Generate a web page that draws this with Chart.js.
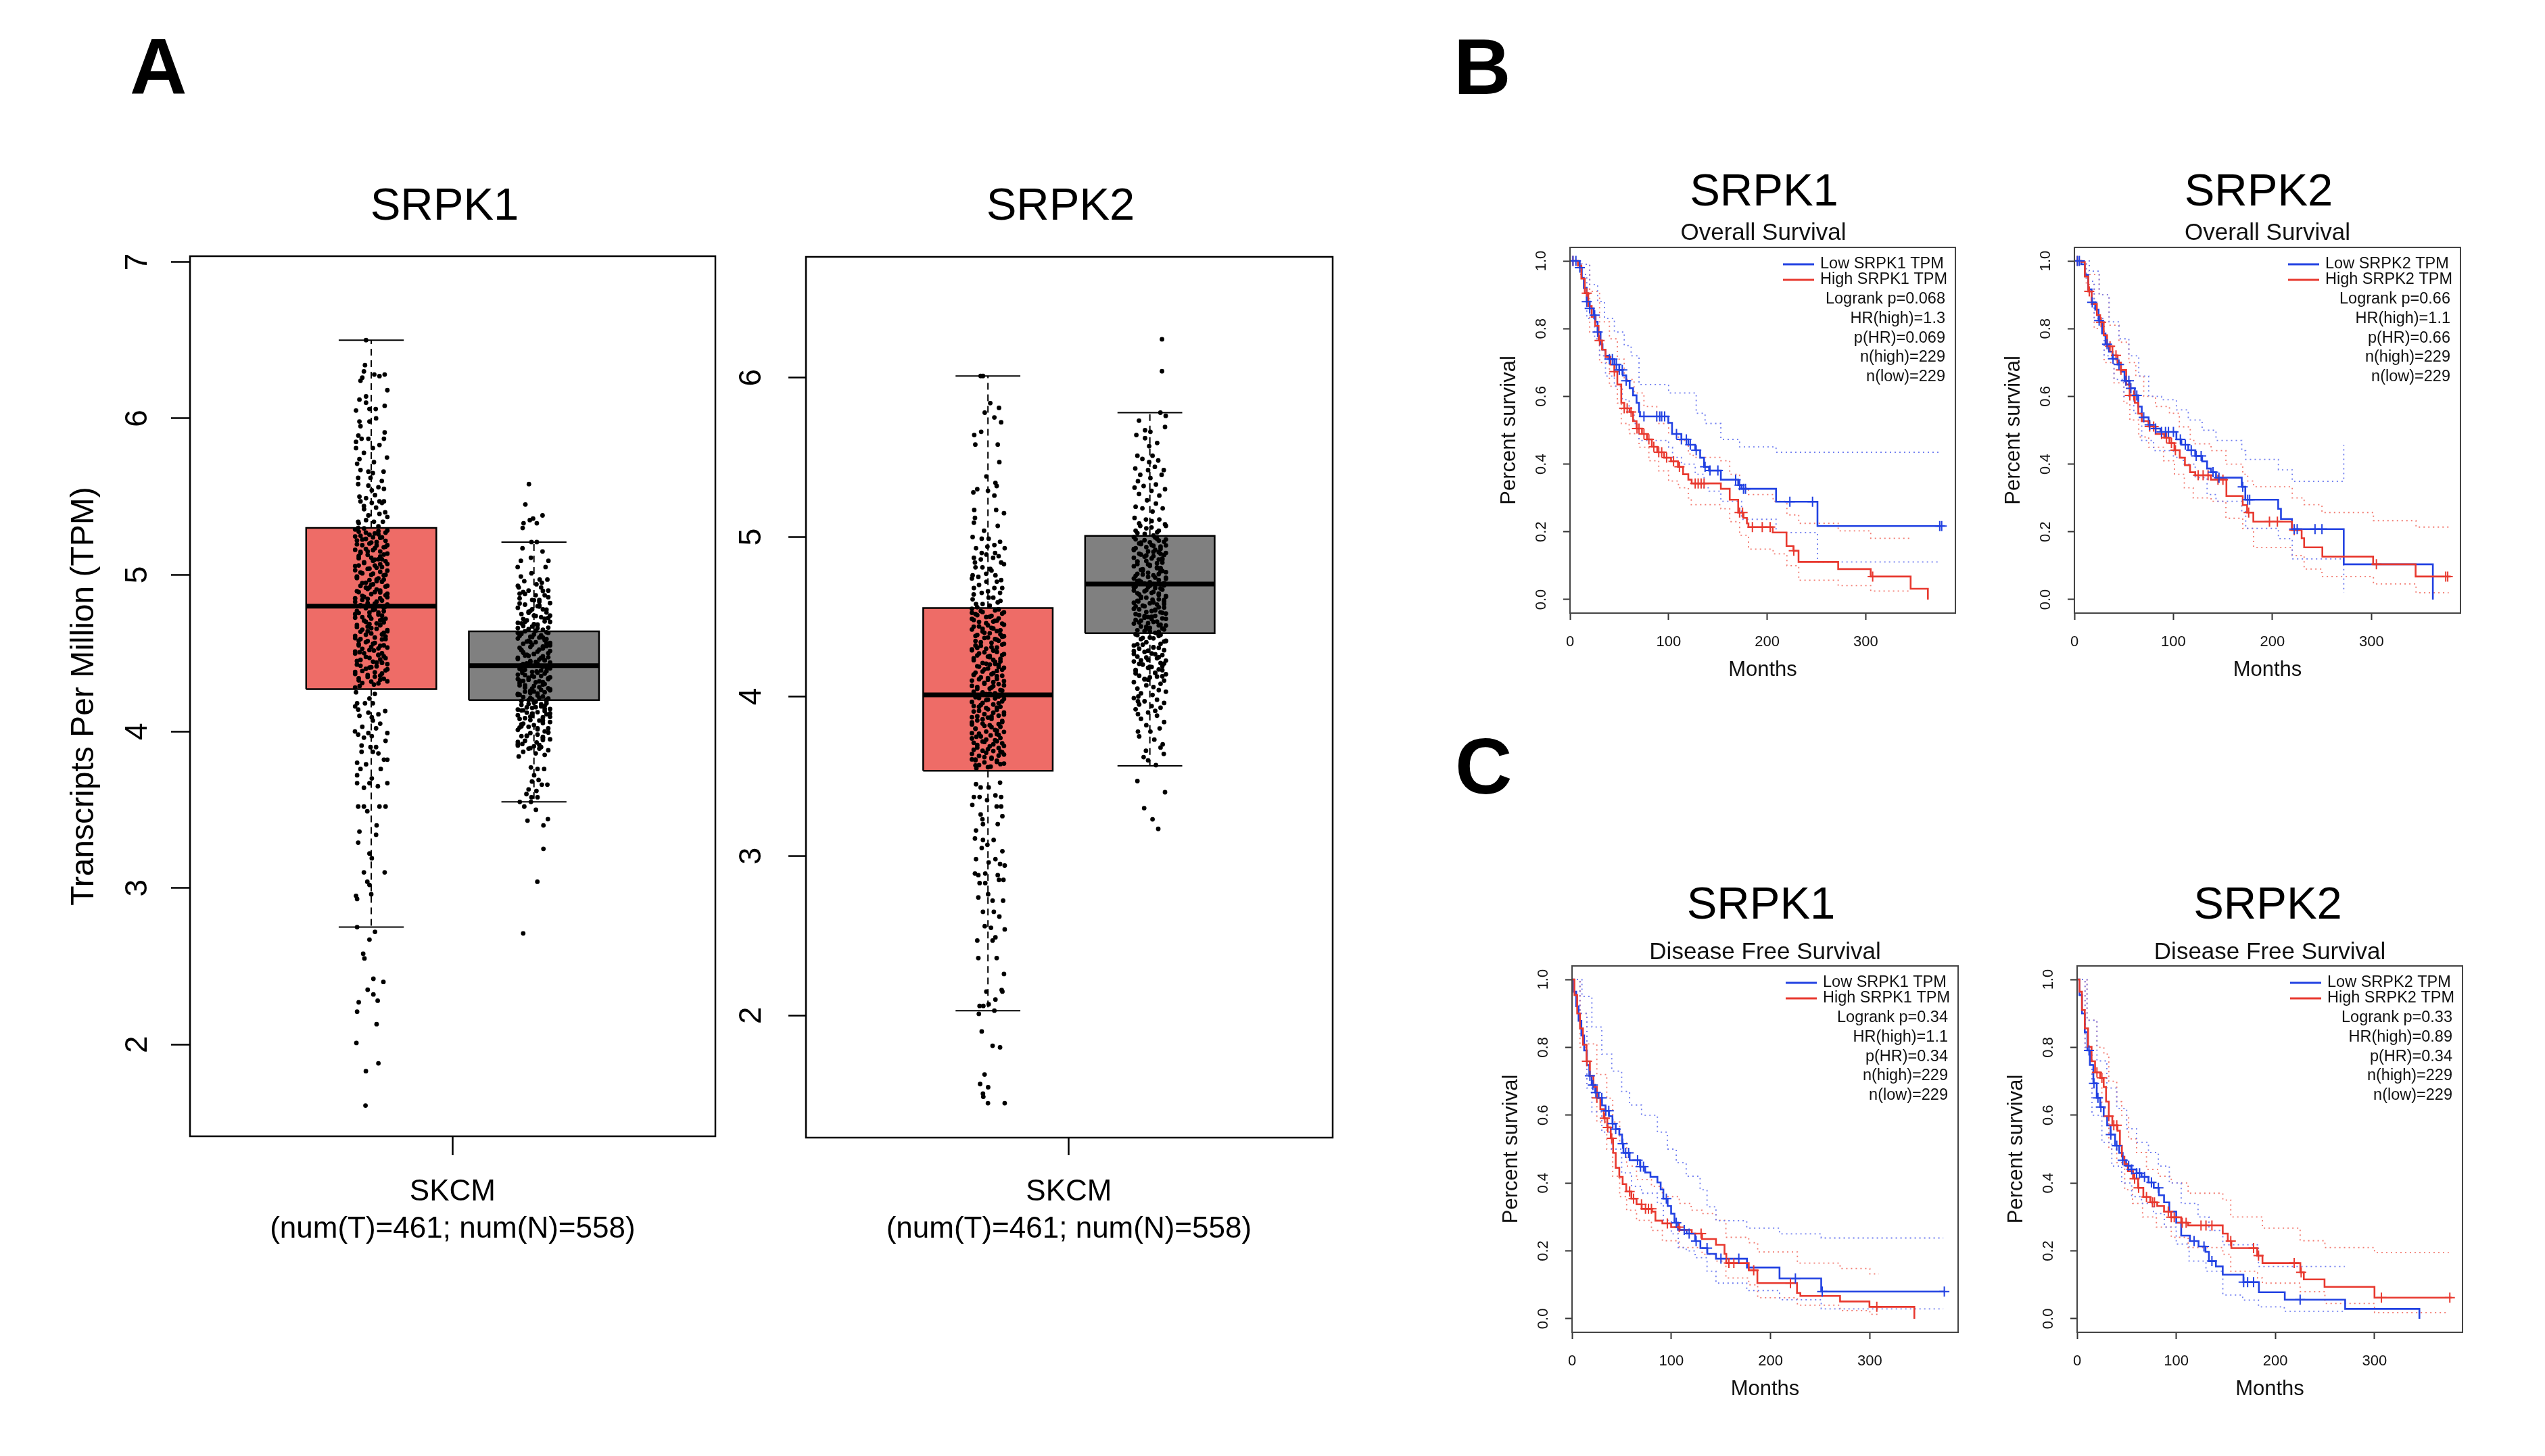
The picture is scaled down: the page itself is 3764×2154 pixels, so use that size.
<!DOCTYPE html>
<html><head><meta charset="utf-8">
<script src="https://cdn.jsdelivr.net/npm/chart.js@4.4.0/dist/chart.umd.min.js"></script>
<style>
body{margin:0;background:#fff;}
#page{position:relative;width:3764px;height:2154px;background:#fff;overflow:hidden;font-family:'Liberation Sans',Arial,Helvetica,sans-serif;}
canvas{position:absolute;}
.lbl{position:absolute;font-weight:bold;font-size:117px;line-height:117px;color:#000;}
</style></head><body>
<div id="page">
<div class="lbl" style="left:192px;top:40px">A</div>
<div class="lbl" style="left:2150px;top:40px">B</div>
<div class="lbl" style="left:2152px;top:1075px">C</div>
<canvas id="boxA1"></canvas><canvas id="boxA2"></canvas>
<canvas id="kmB1"></canvas><canvas id="kmB2"></canvas>
<canvas id="kmC1"></canvas><canvas id="kmC2"></canvas>
</div>
<script>
// ================= DATA =================
const genes = ['SRPK1', 'SRPK2'];
const boxGroups = ['Tumor', 'Normal'];
const boxTickLabel = ['SKCM', '(num(T)=461; num(N)=558)'];
const boxYTitle = 'Transcripts Per Million (TPM)';
const srpk1YTicks = [2, 3, 4, 5, 6, 7];
const srpk2YTicks = [2, 3, 4, 5, 6];
// box stats: [lower whisker, Q1, median, Q3, upper whisker]
const srpk1TumorStats = [2.75, 4.27, 4.80, 5.30, 6.50];
const srpk1NormalStats = [3.55, 4.20, 4.42, 4.64, 5.21];
const srpk2TumorStats = [2.03, 3.535, 4.01, 4.555, 6.01];
const srpk2NormalStats = [3.565, 4.397, 4.706, 5.007, 5.78];

// individual sample TPM values
const srpk1TumorTPM = [
6.50,6.34,6.30,6.24,6.26,6.27,6.28,6.28,6.18,6.12,6.14,6.10,6.05,6.06,6.06,6.08,6.00,5.98,5.95,5.98,
5.91,5.89,5.85,5.87,5.87,5.81,5.83,5.87,5.81,5.78,5.75,5.74,5.71,5.72,5.67,5.66,5.65,5.66,5.62,5.62,
5.60,5.58,5.57,5.56,5.55,5.54,5.50,5.49,5.51,5.47,5.46,5.47,5.47,5.44,5.43,5.40,5.38,5.39,5.34,5.35,
5.34,5.34,5.31,5.30,
4.25,4.18,4.18,4.18,4.14,4.12,4.13,4.10,4.09,4.11,4.07,4.02,4.00,3.98,3.96,3.99,3.97,3.99,3.91,3.90,
3.90,3.87,3.87,3.86,3.82,3.82,3.80,3.79,3.76,3.76,3.72,3.70,3.67,3.67,3.67,3.64,3.65,3.52,3.52,3.49,
3.52,3.52,3.40,3.36,3.34,3.29,3.22,3.19,3.10,3.10,3.04,3.02,2.95,2.93,2.96,2.75,2.72,2.67,2.58,2.55,
2.42,2.40,2.35,2.32,2.27,2.28,2.21,2.13,2.01,1.88,1.83,1.61,
5.29,5.28,5.27,5.27,5.25,5.24,5.24,5.22,5.21,5.20,5.19,5.19,5.17,5.16,5.15,5.15,5.13,5.12,5.11,5.10,
5.10,5.08,5.07,5.06,5.06,5.04,5.03,5.02,5.01,5.00,5.00,4.98,4.97,4.97,4.95,4.94,4.93,4.93,4.91,4.90,
4.89,4.89,4.87,4.86,4.85,4.85,4.83,4.82,4.81,4.80,4.80,4.79,4.77,4.76,4.76,4.74,4.73,4.72,4.72,4.70,
4.69,4.68,4.68,4.66,4.65,4.64,4.64,4.62,4.61,4.60,4.59,4.59,4.57,4.56,4.55,4.55,4.53,4.52,4.51,4.50,
4.50,4.48,4.47,4.46,4.45,4.44,4.43,4.42,4.41,4.40,4.39,4.38,4.37,4.36,4.35,4.34,4.33,4.32,4.31,4.30,
4.29,4.28,5.26,5.23,5.18,5.14,5.09,5.05,4.99,4.96,4.92,4.88,4.84,4.78,4.75,4.71,4.67,4.63,4.58,4.54,
4.49,4.44,
5.297,5.284,5.276,5.265,5.257,5.246,5.237,5.226,5.218,5.207,5.196,5.188,5.177,5.166,5.158,5.147,5.136,5.128,5.117,5.106,
5.098,5.087,5.076,5.068,5.057,5.046,5.038,5.027,5.016,5.008,4.997,4.986,4.978,4.967,4.956,4.948,4.937,4.926,4.918,4.907,
4.896,4.888,4.877,4.866,4.858,4.847,4.836,4.828,4.817,4.806,4.798,4.787,4.776,4.768,4.757,4.746,4.738,4.727,4.716,4.708,
4.697,4.686,4.678,4.667,4.656,4.648,4.637,4.626,4.618,4.607,4.596,4.588,4.577,4.566,4.558,4.547,4.536,4.528,4.517,4.506,
4.498,4.487,4.476,4.468,4.457,4.446,4.438,4.427,4.416,4.408,4.397,4.386,4.378,4.367,4.356,4.348,4.337,4.326,4.318,4.307,
5.46,5.42,5.37,5.33,4.24,4.21,4.16,4.05,4.03,3.94];
const srpk1NormalTPM = [
5.58,5.45,5.30,5.33,5.35,5.36,5.33,5.38,5.21,5.21,5.17,5.15,5.11,5.09,5.09,5.05,5.05,4.99,5.01,4.96,
4.97,4.97,4.92,4.94,4.95,
3.84,3.77,3.76,3.76,3.72,3.68,3.69,3.66,3.66,3.63,3.62,3.60,3.58,3.58,3.55,3.55,3.52,3.50,3.43,3.44,
3.40,3.25,3.04,2.71,
4.93,4.92,4.90,4.90,4.89,4.87,4.87,4.85,4.84,4.84,4.82,4.81,4.80,4.79,4.78,4.77,4.76,4.75,4.74,4.73,
4.72,4.71,4.70,4.69,4.68,4.67,4.66,4.65,4.64,4.63,4.62,4.61,4.60,4.59,4.58,4.57,4.56,4.55,4.54,4.53,
4.52,4.51,4.50,4.49,4.48,4.47,4.46,4.45,4.44,4.43,4.42,4.41,4.40,4.39,4.38,4.37,4.36,4.35,4.34,4.33,
4.32,4.31,4.30,4.29,4.28,4.27,4.26,4.25,4.24,4.23,4.22,4.21,4.20,4.19,4.18,4.17,4.16,4.15,4.14,4.13,
4.12,4.11,4.10,4.09,4.08,4.07,4.06,4.05,4.04,4.03,4.02,4.01,4.00,3.99,3.98,3.97,3.96,3.95,3.94,3.93,
3.92,3.91,3.90,3.89,3.88,3.87,3.86,3.85,
4.88,4.83,4.78,4.74,4.70,4.66,4.63,4.60,4.57,4.545,4.52,4.495,4.47,4.455,4.435,4.415,4.395,4.375,4.355,4.335,
4.315,4.295,4.275,4.255,4.235,4.215,4.195,4.175,4.155,4.135,4.115,4.095,4.07,4.045,4.02,3.995,3.97,3.945,3.92,3.89,
4.605,4.565,4.505,4.445,4.385,4.325,4.265,4.205,4.145,4.085,4.685,4.725,4.765,4.805,4.025,3.965,3.905,4.485,4.345,4.245,
4.703,4.694,4.683,4.674,4.663,4.654,4.643,4.634,4.623,4.614,4.603,4.594,4.583,4.574,4.563,4.554,4.543,4.534,4.523,4.514,
4.503,4.494,4.483,4.474,4.463,4.454,4.443,4.434,4.423,4.414,4.403,4.394,4.383,4.374,4.363,4.354,4.343,4.334,4.323,4.314,
4.303,4.294,4.283,4.274,4.263,4.254,4.243,4.234,4.223,4.214,4.203,4.194,4.183,4.174,4.163,4.154,4.143,4.134,4.123,4.114,
4.103,4.898,4.878,4.858,4.838,4.818,4.798,4.778,4.758,4.738,4.718,4.093,4.073,4.053,4.033,4.013,3.993,3.973,3.953,3.933,
3.913,3.893];
const srpk2TumorTPM = [
6.01,6.01,5.84,5.78,5.81,5.75,5.72,5.66,5.64,5.58,5.58,5.47,5.38,5.34,5.32,5.30,5.28,5.29,5.26,5.17,
5.17,5.15,5.12,5.09,5.07,5.04,5.00,4.99,4.99,4.95,4.97,4.93,4.94,4.93,4.90,4.87,4.89,4.87,4.84,4.84,
4.81,4.80,4.76,4.76,4.75,4.73,4.72,4.68,4.68,4.65,4.65,4.61,4.62,4.58,4.59,
3.45,3.43,3.43,3.46,3.37,3.37,3.38,3.37,3.35,3.32,3.31,3.31,3.25,3.26,3.23,3.20,3.20,3.16,3.11,3.10,
3.10,3.05,3.07,3.03,2.98,2.98,2.96,2.95,2.94,2.89,2.88,2.89,2.88,2.83,2.83,2.85,2.85,2.76,2.74,2.72,
2.72,2.65,2.65,2.62,2.56,2.55,2.54,2.49,2.47,2.47,2.36,2.36,2.26,2.16,2.15,2.15,2.10,2.06,2.06,2.07,
2.01,2.03,1.90,1.81,1.80,1.63,1.57,1.55,1.51,1.49,1.45,1.45,
4.55,4.54,4.53,4.52,4.51,4.50,4.49,4.48,4.47,4.46,4.45,4.44,4.43,4.42,4.41,4.40,4.39,4.38,4.37,4.36,
4.35,4.34,4.33,4.32,4.31,4.30,4.29,4.28,4.27,4.26,4.25,4.24,4.23,4.22,4.21,4.20,4.19,4.18,4.17,4.16,
4.15,4.14,4.13,4.12,4.11,4.10,4.09,4.08,4.07,4.06,4.05,4.04,4.03,4.02,4.01,4.00,3.99,3.98,3.97,3.96,
3.95,3.94,3.93,3.92,3.91,3.90,3.89,3.88,3.87,3.86,3.85,3.84,3.83,3.82,3.81,3.80,3.79,3.78,3.77,3.76,
3.75,3.74,3.73,3.72,3.71,3.70,3.69,3.68,3.67,3.66,3.65,3.64,3.63,3.62,3.61,3.60,3.59,3.58,3.57,3.56,
3.55,4.525,4.475,4.425,4.375,4.305,4.255,4.185,4.135,4.065,4.015,3.985,3.935,3.875,3.825,3.765,3.715,3.655,3.605,4.105,
4.205,
4.547,4.536,4.528,4.517,4.506,4.498,4.487,4.476,4.468,4.457,4.446,4.438,4.427,4.416,4.408,4.397,4.386,4.378,4.367,4.356,
4.348,4.337,4.326,4.318,4.307,4.296,4.288,4.277,4.266,4.258,4.247,4.236,4.228,4.217,4.206,4.198,4.187,4.176,4.168,4.157,
4.146,4.138,4.127,4.116,4.108,4.097,4.086,4.078,4.067,4.056,4.048,4.037,4.026,4.018,4.007,3.996,3.988,3.977,3.966,3.958,
3.947,3.936,3.928,3.917,3.906,3.898,3.887,3.876,3.868,3.857,3.846,3.838,3.827,3.816,3.808,3.797,3.786,3.778,3.767,3.756,
3.748,3.737,3.726,3.718,3.707,3.696,3.688,3.677,3.666,3.658,3.647,3.636,3.628,3.617,3.606,3.598,3.587,3.576,3.568,3.557,
4.90,4.88,4.86,4.83,4.81,4.79,4.77,4.74,4.72,4.70,4.68,4.66,4.64,4.62,4.60,4.58,4.57,4.56];
const srpk2NormalTPM = [
6.24,6.04,5.78,5.76,5.73,5.69,5.67,5.66,5.64,5.62,5.59,5.57,5.51,5.51,5.49,5.48,5.47,5.43,5.44,5.42,
5.42,5.39,5.39,5.37,5.35,5.33,5.31,5.32,5.30,5.29,5.27,5.26,5.23,5.21,5.19,5.18,5.18,5.16,5.12,5.11,
5.11,5.08,5.07,5.06,5.04,5.03,5.02,
3.97,3.89,3.78,3.78,3.66,3.70,3.64,3.62,3.60,3.57,3.47,3.40,3.30,3.23,3.17,3.88,3.86,3.84,3.82,3.80,
3.75,3.73,3.68,
5.00,4.99,4.98,4.97,4.96,4.95,4.94,4.93,4.92,4.91,4.90,4.89,4.88,4.87,4.86,4.85,4.84,4.83,4.82,4.81,
4.80,4.79,4.78,4.77,4.76,4.75,4.74,4.73,4.72,4.71,4.70,4.69,4.68,4.67,4.66,4.65,4.64,4.63,4.62,4.61,
4.60,4.59,4.58,4.57,4.56,4.55,4.54,4.53,4.52,4.51,4.50,4.49,4.48,4.47,4.46,4.45,4.44,4.43,4.42,4.41,
4.40,4.39,4.38,4.37,4.36,4.35,4.34,4.33,4.32,4.31,4.30,4.29,4.28,4.27,4.26,4.25,4.24,4.23,4.22,4.21,
4.20,4.19,4.18,4.17,4.16,4.15,4.14,4.13,4.12,4.11,4.10,4.09,4.08,4.07,4.06,4.05,4.04,4.03,4.02,4.01,
4.00,3.99,3.98,3.97,3.96,3.95,3.94,3.93,3.92,3.91,3.90,
4.985,4.965,4.945,4.925,4.905,4.885,4.865,4.845,4.825,4.805,4.785,4.765,4.745,4.725,4.705,4.685,4.665,4.645,4.625,4.605,
4.585,4.565,4.545,4.525,4.505,4.485,4.465,4.445,4.425,4.405,4.385,4.365,4.345,4.325,4.305,4.285,4.265,4.245,4.225,4.205,
4.185,4.165,4.145,4.125,4.105,4.895,4.795,4.695,4.595,4.495,
4.997,4.986,4.978,4.967,4.956,4.948,4.937,4.926,4.918,4.907,4.896,4.888,4.877,4.866,4.858,4.847,4.836,4.828,4.817,4.806,
4.798,4.787,4.776,4.768,4.757,4.746,4.738,4.727,4.716,4.708,4.697,4.686,4.678,4.667,4.656,4.648,4.637,4.626,4.618,4.607,
4.596,4.588,4.577,4.566,4.558,4.547,4.536,4.528,4.517,4.506,4.498,4.487,4.476,4.468,4.457,4.446,4.438,4.427,4.416,4.408,
4.397,4.387,4.367,4.347,4.327,4.307,4.287,4.267,4.247,4.227,4.207,4.187,4.167,4.147,4.127,4.107,
5.10,5.085,5.07,5.055,5.04,5.025,5.01];

// ---- Kaplan-Meier curves: [months, survival] at each step ----
const kmMonthTicks = [0, 100, 200, 300];
const kmSurvTicks = [0, 0.2, 0.4, 0.6, 0.8, 1.0];
const os1Low = [[0,1],[9.8,0.98],[12,0.95],[14,0.92],[17,0.88],[20,0.86],[24,0.84],[26,0.82],[28,0.79],[31,0.754],[33,0.738],[36,0.72],[40,0.71],[45,0.694],[50,0.678],[53.5,0.662],[57,0.646],[60.5,0.624],[64,0.603],[67.5,0.581],[70,0.554],[71,0.541],[99.7,0.522],[103.5,0.489],[113,0.473],[120,0.457],[127,0.441],[132,0.419],[136,0.392],[141,0.381],[153,0.354],[170.6,0.338],[174,0.327],[209,0.289],[251,0.217],[377,0.217]];
const os1High = [[0,1],[8,0.986],[11.5,0.948],[15,0.905],[18.5,0.867],[22,0.835],[25.5,0.808],[29,0.765],[32.5,0.738],[36,0.716],[41,0.694],[45,0.673],[48,0.635],[52,0.581],[55,0.565],[60.5,0.554],[64,0.527],[67.5,0.505],[73,0.489],[78,0.473],[83,0.451],[88.5,0.435],[95.5,0.419],[102.5,0.408],[109.5,0.392],[114.7,0.370],[120,0.354],[123.4,0.343],[153,0.327],[162,0.295],[170.6,0.257],[176,0.241],[179.4,0.225],[181,0.214],[205.6,0.198],[219.6,0.158],[226.6,0.144],[231.8,0.111],[272,0.090],[305,0.068],[345.5,0.032],[363,0.0]];
const os1LowUpper = [[0,1],[12,0.99],[20,0.93],[28,0.88],[35,0.83],[45,0.79],[55,0.75],[62,0.72],[70,0.635],[100,0.61],[128,0.55],[137,0.52],[153,0.473],[172,0.451],[209,0.435],[375,0.435]];
const os1LowLower = [[0,1],[10,0.96],[17,0.83],[25,0.77],[30,0.72],[36,0.66],[45,0.63],[53,0.59],[60,0.55],[65,0.52],[70,0.47],[100,0.45],[104,0.42],[113,0.40],[127,0.37],[136,0.33],[141,0.32],[153,0.29],[174,0.237],[209,0.198],[251,0.111],[375,0.111]];
const os1HighUpper = [[0,1],[12,0.99],[20,0.91],[30,0.82],[40,0.77],[48,0.71],[55,0.65],[65,0.61],[75,0.57],[88,0.52],[100,0.49],[110,0.47],[120,0.43],[125,0.42],[153,0.41],[162,0.37],[172,0.33],[181,0.31],[206,0.29],[220,0.25],[232,0.225],[272,0.203],[305,0.181],[345,0.181]];
const os1HighLower = [[0,1],[10,0.96],[20,0.79],[30,0.70],[40,0.63],[48,0.58],[52,0.52],[60,0.49],[70,0.45],[80,0.41],[90,0.38],[100,0.35],[110,0.33],[120,0.30],[123,0.28],[153,0.268],[162,0.23],[172,0.19],[181,0.149],[206,0.135],[220,0.10],[232,0.057],[272,0.041],[305,0.025],[345,0.025]];
const os1LowCensor = [3,6,10,17,20,25,28,40,43,47,50,53,57,75,88,91,93,96,108,113,118,122,128,137,142,150,168,172,176,178,223,246,375,377];
const os1HighCensor = [3,17,30,45,55,58,62,68,70,75,80,85,90,93,98,105,111,127,130,133,136,172,175,185,195,203,227,307];
const os1Stats = ['Logrank p=0.068','HR(high)=1.3','p(HR)=0.069','n(high)=229','n(low)=229'];

const os2Low = [[0,1],[7,0.99],[10.5,0.959],[14,0.916],[17.4,0.878],[21,0.856],[24.4,0.824],[27.9,0.786],[31.4,0.754],[34.9,0.732],[38.4,0.711],[43.6,0.694],[47,0.673],[50.6,0.646],[55.8,0.624],[61,0.603],[64.5,0.570],[68,0.538],[75,0.516],[80,0.505],[87,0.495],[103,0.473],[108,0.457],[115,0.441],[122,0.424],[129,0.408],[134,0.387],[138,0.376],[143,0.360],[169,0.333],[172.6,0.295],[205.8,0.268],[208.6,0.238],[219.7,0.208],[272,0.104],[362,0.0]];
const os2High = [[0,1],[7,0.997],[10.5,0.954],[14,0.910],[17.4,0.873],[22.7,0.84],[26,0.819],[29.6,0.781],[33,0.748],[38.4,0.721],[43.6,0.700],[47,0.678],[52.3,0.635],[55.8,0.603],[61,0.581],[64.5,0.549],[68,0.527],[75,0.511],[82,0.489],[90.7,0.478],[96,0.462],[101,0.441],[106.4,0.419],[111.6,0.397],[116.8,0.376],[122,0.367],[137.8,0.354],[153.5,0.306],[170,0.279],[174.4,0.257],[180.7,0.230],[219.7,0.205],[229.5,0.181],[232,0.154],[250.4,0.127],[301.7,0.104],[344.6,0.068],[380,0.068]];
const os2LowUpper = [[0,1],[15,0.97],[25,0.9],[35,0.82],[45,0.77],[55,0.72],[65,0.66],[75,0.6],[88,0.59],[103,0.56],[115,0.53],[129,0.50],[143,0.47],[169,0.44],[173,0.414],[206,0.383],[220,0.349],[272,0.457]];
const os2LowLower = [[0,1],[12,0.94],[20,0.83],[30,0.72],[40,0.65],[50,0.60],[60,0.55],[68,0.47],[80,0.44],[100,0.42],[110,0.40],[122,0.36],[134,0.31],[143,0.29],[169,0.26],[173,0.21],[206,0.18],[220,0.12],[272,0.02]];
const os2HighUpper = [[0,1],[15,0.96],[25,0.9],[35,0.81],[45,0.76],[55,0.7],[62,0.66],[70,0.6],[82,0.57],[96,0.55],[106,0.51],[117,0.47],[122,0.46],[138,0.44],[153,0.40],[170,0.37],[175,0.35],[181,0.333],[220,0.3],[232,0.28],[250,0.257],[302,0.233],[345,0.214],[378,0.214]];
const os2HighLower = [[0,1],[12,0.93],[20,0.8],[30,0.7],[40,0.64],[50,0.58],[56,0.53],[65,0.48],[75,0.45],[90,0.41],[101,0.37],[111,0.33],[120,0.30],[138,0.29],[153,0.24],[170,0.21],[181,0.154],[220,0.13],[232,0.09],[250,0.068],[302,0.046],[345,0.02],[378,0.02]];
const os2LowCensor = [3,5,18,25,33,39,45,52,55,57,63,70,76,82,88,92,95,100,107,112,118,123,128,140,146,170,175,177,222,225,243,250];
const os2HighCensor = [3,15,27,36,42,47,56,60,76,80,88,93,98,102,125,130,135,145,150,176,197,205,222,305,375,377];
const os2Stats = ['Logrank p=0.66','HR(high)=1.1','p(HR)=0.66','n(high)=229','n(low)=229'];

const dfs1Low = [[0,1],[1.7,0.964],[4.2,0.921],[6.6,0.878],[9.4,0.835],[12.2,0.791],[15,0.748],[17.4,0.716],[19.8,0.689],[23.3,0.667],[26.8,0.651],[30.2,0.629],[33.7,0.613],[37.2,0.597],[40.7,0.575],[44,0.559],[47.6,0.543],[50.4,0.516],[51.8,0.489],[58,0.467],[68.5,0.448],[73.7,0.431],[79,0.418],[86,0.402],[89.3,0.381],[92,0.354],[96.3,0.332],[99.8,0.310],[103.2,0.283],[106.7,0.262],[115.4,0.251],[124,0.229],[129.3,0.208],[136.3,0.191],[145,0.177],[176.2,0.151],[209,0.119],[251,0.080],[376,0.080]];
const dfs1High = [[0,1],[2.4,0.954],[5.2,0.9],[8,0.856],[11,0.808],[14.6,0.759],[18,0.716],[21.6,0.683],[25,0.651],[28.5,0.618],[32,0.591],[35.5,0.564],[39,0.532],[41.4,0.489],[44,0.445],[47.6,0.418],[51,0.397],[54.6,0.375],[59.8,0.354],[65,0.337],[70.2,0.324],[80.6,0.316],[84,0.289],[91,0.281],[99.8,0.270],[108.4,0.262],[120.6,0.251],[131,0.235],[145,0.218],[153.6,0.191],[155.4,0.164],[178,0.143],[186.7,0.105],[226.6,0.076],[230,0.067],[270,0.051],[299.6,0.035],[344.8,0.0]];
const dfs1LowUpper = [[0,1],[10,0.95],[20,0.86],[30,0.78],[40,0.73],[50,0.67],[58,0.63],[70,0.6],[86,0.55],[96,0.5],[105,0.46],[115,0.42],[129,0.38],[136,0.33],[145,0.289],[176,0.267],[209,0.25],[251,0.238],[374,0.238]];
const dfs1LowLower = [[0,1],[8,0.9],[15,0.68],[20,0.61],[30,0.55],[40,0.5],[50,0.43],[60,0.39],[70,0.37],[86,0.34],[92,0.29],[100,0.25],[107,0.21],[115,0.2],[124,0.18],[136,0.14],[145,0.105],[176,0.083],[209,0.056],[251,0.029],[374,0.029]];
const dfs1HighUpper = [[0,1],[8,0.9],[15,0.81],[25,0.72],[35,0.65],[41,0.58],[48,0.52],[55,0.45],[65,0.41],[80,0.39],[91,0.36],[108,0.34],[120,0.32],[131,0.31],[145,0.29],[155,0.24],[178,0.224],[187,0.197],[227,0.164],[270,0.148],[300,0.132],[309,0.132]];
const dfs1HighLower = [[0,1],[8,0.8],[15,0.69],[25,0.58],[35,0.5],[41,0.42],[48,0.36],[55,0.32],[65,0.29],[80,0.26],[91,0.23],[108,0.21],[131,0.19],[145,0.17],[155,0.12],[178,0.1],[187,0.062],[227,0.04],[270,0.024],[300,0.013],[309,0.013]];
const dfs1LowCensor = [18,21,24,30,34,37,41,44,51,54,57,66,69,72,95,105,113,118,125,136,150,168,225,252,375];
const dfs1HighCensor = [15,25,33,36,40,58,62,70,74,77,80,96,108,130,158,163,183,220,307];
const dfs1Stats = ['Logrank p=0.34','HR(high)=1.1','p(HR)=0.34','n(high)=229','n(low)=229'];

const dfs2Low = [[0,1],[2.4,0.954],[4.9,0.9],[7.7,0.845],[10.4,0.791],[12.9,0.748],[16.4,0.694],[19.8,0.651],[23.3,0.624],[26.8,0.597],[30.3,0.57],[33.8,0.543],[38.3,0.51],[42.5,0.489],[46,0.467],[49.4,0.451],[54.6,0.44],[60,0.429],[65,0.418],[72,0.402],[77.3,0.386],[82.5,0.364],[87.7,0.343],[93,0.316],[100,0.283],[105,0.245],[113.8,0.229],[122.5,0.213],[129.5,0.197],[133,0.17],[140,0.154],[146.9,0.130],[167.8,0.108],[183.4,0.078],[209.5,0.056],[270.4,0.029],[345.3,0.0]];
const dfs2High = [[0,1],[2.4,0.964],[4.9,0.91],[7.7,0.856],[11.1,0.802],[14.6,0.759],[18.1,0.726],[23.3,0.71],[26.8,0.683],[29.2,0.64],[32,0.597],[35.5,0.57],[40.7,0.554],[43.2,0.51],[45.2,0.478],[47.7,0.456],[51.2,0.435],[56.4,0.413],[61.6,0.386],[66.8,0.359],[73.8,0.343],[80.8,0.332],[87.7,0.316],[94.7,0.299],[105,0.283],[112,0.275],[146.9,0.251],[152,0.229],[155.6,0.208],[181.7,0.186],[187,0.164],[225.2,0.137],[228.7,0.116],[249.6,0.094],[300,0.062],[378,0.062]];
const dfs2LowUpper = [[0,1],[10,0.88],[20,0.76],[30,0.68],[40,0.62],[50,0.56],[60,0.52],[72,0.49],[82,0.45],[93,0.4],[105,0.34],[122,0.3],[133,0.26],[147,0.218],[183,0.154],[270,0.154]];
const dfs2LowLower = [[0,1],[8,0.8],[15,0.6],[25,0.52],[35,0.45],[45,0.4],[55,0.36],[65,0.34],[77,0.31],[88,0.27],[100,0.22],[113,0.17],[130,0.14],[147,0.07],[167,0.055],[183,0.035],[209,0.022],[270,0.022]];
const dfs2HighUpper = [[0,1],[10,0.88],[20,0.8],[27,0.78],[32,0.7],[40,0.64],[45,0.6],[52,0.53],[60,0.49],[70,0.44],[82,0.42],[95,0.4],[112,0.37],[147,0.35],[155,0.3],[187,0.267],[225,0.23],[250,0.21],[300,0.195],[375,0.195]];
const dfs2HighLower = [[0,1],[8,0.8],[15,0.68],[25,0.62],[32,0.5],[40,0.46],[48,0.38],[56,0.34],[66,0.3],[80,0.27],[95,0.24],[112,0.21],[147,0.19],[155,0.14],[182,0.12],[187,0.105],[225,0.08],[250,0.045],[300,0.018],[375,0.018]];
const dfs2LowCensor = [12,17,21,24,34,40,46,52,55,60,63,68,75,82,118,128,136,168,172,178,225];
const dfs2HighCensor = [20,25,32,37,40,58,62,70,76,78,92,95,98,106,110,125,130,136,155,178,183,219,226,307,376];
const dfs2Stats = ['Logrank p=0.33','HR(high)=0.89','p(HR)=0.34','n(high)=229','n(low)=229'];

// ================= LAYOUT / STYLE (positions, not data) =================
const FONT = "'Liberation Sans', Arial, Helvetica, sans-serif";
const RED_BOX = '#EE6C67', GRAY_BOX = '#808080';
const KM_BLUE = '#2242E2', KM_RED = '#E8392F', CI_BLUE = '#6E7CF0', CI_RED = '#F27A70';
const BOX_HALF = 0.40, CAP_HALF = 0.20, JIT_HALF = 0.11;
// jitter slots (x offset within strip, -1..1) for dots read in the sparse tails
const srpk1TumorJitter = [-0.29,-0.35,-0.41,-0.6,-0.5,0.46,0.75,0.17,0.9,-0.66,-0.29,-0.29,-0.85,-0.1,0.25,0.75,0.27,-0.66,-0.6,-0.1,
0.75,-0.72,-0.85,-0.54,-0.16,0.09,0.46,0.71,-0.85,-0.41,0.88,-0.66,-0.79,0.15,-0.6,-0.16,0.09,0.69,-0.73,-0.04,
0.59,-0.73,-0.16,0.4,0.71,0.03,-0.66,-0.29,0.21,-0.6,0.03,0.46,0.71,-0.41,0.27,0.78,-0.16,0.46,-0.73,-0.29,
0.15,0.65,0.4,-0.73,
-0.85,-0.79,-0.35,0.09,-0.73,-0.16,0.78,-0.66,0.03,0.4,0.09,0.27,-0.91,-0.73,-0.41,-0.16,0.03,0.9,-0.54,-0.04,
0.27,-0.54,0.09,0.4,0.71,0.9,-0.79,-0.29,-0.6,0.53,-0.79,0.03,-0.79,-0.1,0.9,-0.41,0.37,-0.73,-0.41,-0.22,
0.46,0.8,0.3,-0.66,0.27,-0.73,-0.1,0.03,-0.41,0.75,-0.22,-0.1,-0.85,-0.79,0.0,-0.79,0.21,-0.1,-0.45,-0.38,
0.12,0.68,-0.2,0.12,-0.7,0.36,-0.79,0.3,-0.83,0.4,-0.3,-0.32];
const srpk1NormalJitter = [-0.28,-0.48,-0.63,-0.58,-0.23,-0.05,0.16,0.48,-0.14,0.16,-0.64,0.48,-0.17,-0.73,0.81,-0.91,0.65,-0.73,-0.14,-0.54,
0.32,0.75,-0.85,0.14,0.44,
-0.85,-0.17,0.2,0.57,0.01,-0.11,0.26,0.44,0.75,-0.3,0.14,-0.42,-0.14,0.2,-0.79,-0.17,-0.54,0.11,-0.36,0.78,
0.53,0.53,0.19,-0.6];
const srpk2TumorJitter = [-0.41,-0.28,0.13,-0.18,0.62,0.36,0.74,-0.38,-0.77,-0.71,0.55,0.64,-0.09,0.42,0.49,-0.6,-0.82,0.0,0.36,-0.77,
0.46,0.9,-0.73,-0.79,0.55,-0.22,-0.86,-0.35,0.04,0.36,0.68,-0.67,-0.03,0.94,-0.35,-0.79,-0.09,0.29,0.74,-0.73,
-0.31,0.13,-0.86,0.42,-0.54,0.74,-0.09,-0.79,0.36,-0.35,0.68,-0.86,0.04,-0.67,0.55,
-0.67,-0.41,0.04,0.68,-0.79,-0.47,0.42,0.74,-0.05,-0.88,0.49,0.74,0.81,-0.41,-0.31,0.55,-0.28,-0.67,-0.73,-0.28,
0.32,-0.35,-0.03,0.81,-0.67,0.42,0.04,0.68,0.94,-0.73,-0.54,-0.15,0.55,-0.47,-0.15,0.62,0.87,0.01,-0.54,0.26,
0.85,-0.28,0.33,0.64,-0.18,0.17,0.94,0.42,0.26,-0.6,-0.54,0.49,0.9,0.77,0.81,-0.09,0.42,-0.47,-0.26,0.04,
-0.51,0.36,-0.35,0.26,0.68,-0.19,-0.44,0.01,-0.28,-0.26,0.0,0.94];
const srpk2NormalJitter = [0.68,0.68,0.59,0.89,-0.61,0.85,-0.27,0.03,-0.76,-0.27,0.41,-0.04,-0.7,0.15,-0.42,0.47,-0.04,-0.82,0.28,0.78,
-0.1,-0.54,0.66,0.03,-0.67,0.34,-0.86,-0.35,0.85,0.09,-0.61,0.53,-0.16,0.34,-0.8,-0.42,0.72,0.15,-0.86,-0.22,
0.53,0.85,-0.54,0.09,-0.8,0.41,-0.29,
-0.67,-0.67,-0.67,0.03,-0.22,0.72,0.78,-0.35,-0.1,0.34,-0.7,0.85,-0.32,0.15,0.47,0.4,-0.5,0.8,-0.2,0.55,
-0.6,0.25,0.6];
// strip slots used for the dense core of each cloud
const jitterSlots = [-0.9,0.4,-0.3,0.8,-0.6,0.1,0.6,-0.8,0.3,-0.1,0.9,-0.5,0.2,-0.9,0.5,-0.2,0.7,-0.7,0.0,0.4,
0.6,-0.4,0.9,-0.7,0.2,-0.1,-0.9,0.5,-0.5,0.8,0.0,-0.8,0.3,0.7,-0.3,0.1,-0.6,0.9,-0.2,0.5,
-0.7,0.2,0.8,-0.4,0.5,-0.9,0.3,-0.2,0.9,-0.6,0.1,0.7,-0.8,0.4,-0.1,0.6,-0.5,0.0,0.8,-0.3,
0.3,-0.8,0.5,0.0,-0.5,0.9,-0.2,0.6,-0.9,0.2,-0.6,0.8,-0.3,0.1,0.7,-0.7,0.4,-0.1,-0.9,0.6,
-0.4,0.7,-0.1,0.5,-0.8,0.3,0.9,-0.6,0.0,-0.3,0.8,-0.9,0.6,-0.2,0.2,-0.7,0.5,0.9,-0.5,0.15,-0.65];

// titles: dx from plot-frame centre, base = text baseline relative to frame top
const LAYOUT = {
  boxA1: {x:281, y:379, w:777, h:1302, padL:221, padT:160, padR:20, padB:189, xMin:-0.114, xMax:3.115, yMin:1.414, yMax:7.036, tickLen:28, tickLabelX:77,
          titles:[{size:67, dx:-12, base:-54, color:'#000'}]},
  boxA2: {x:1192, y:380, w:779, h:1303, padL:150, padT:160, padR:20, padB:189, xMin:-0.124, xMax:3.129, yMin:1.234, yMax:6.757, tickLen:26, tickLabelX:80,
          titles:[{size:67, dx:-13, base:-55, color:'#000'}]},
  kmB1: {x:2322, y:366, w:570, h:541, xMax:390.9, titles:[{size:67, dx:2, base:-62, color:'#000'}, {size:35, dx:1, base:-11.5, color:'#111'}]},
  kmB2: {x:3068, y:366, w:571, h:541, xMax:389.9, titles:[{size:67, dx:-13, base:-62, color:'#000'}, {size:35, dx:0, base:-11.5, color:'#111'}]},
  kmC1: {x:2325, y:1429, w:571, h:542, xMax:388.9, titles:[{size:67, dx:-6, base:-70.5, color:'#000'}, {size:35, dx:0, base:-10, color:'#111'}]},
  kmC2: {x:3072, y:1429, w:570, h:542, xMax:388.8, titles:[{size:67, dx:-3, base:-70.5, color:'#000'}, {size:35, dx:0, base:-10, color:'#111'}]}
};

Chart.defaults.font.family = FONT;

const framePlugin = {
  id: 'frame',
  afterDatasetsDraw(chart, args, opts) {
    const {ctx, chartArea: a} = chart;
    ctx.save();
    ctx.strokeStyle = opts.color; ctx.lineWidth = opts.width;
    ctx.strokeRect(a.left, a.top, a.right - a.left, a.bottom - a.top);
    ctx.restore();
  }
};
const titlesPlugin = {
  id: 'panelTitles',
  afterDraw(chart, args, opts) {
    const {ctx, chartArea: a} = chart;
    const cx = (a.left + a.right) / 2;
    ctx.save();
    ctx.textAlign = 'center'; ctx.textBaseline = 'alphabetic';
    opts.items.forEach(it => {
      ctx.font = it.size + 'px ' + FONT; ctx.fillStyle = it.color;
      ctx.fillText(it.text, cx + it.dx, a.top + it.base);
    });
    ctx.restore();
  }
};
const kmLegendPlugin = {
  id: 'kmLegend',
  afterDatasetsDraw(chart, args, opts) {
    const {ctx, chartArea: a} = chart;
    ctx.save();
    ctx.font = '23.5px ' + FONT;
    ctx.textBaseline = 'middle';
    opts.items.forEach((it, i) => {
      const y = a.top + 25 + i * 23;
      ctx.strokeStyle = it.color; ctx.lineWidth = 3;
      ctx.beginPath(); ctx.moveTo(a.right - 255, y); ctx.lineTo(a.right - 209, y); ctx.stroke();
      ctx.fillStyle = '#111'; ctx.textAlign = 'left';
      ctx.fillText(it.text, a.right - 200, y);
    });
    ctx.textAlign = 'right'; ctx.fillStyle = '#111';
    opts.stats.forEach((s, i) => ctx.fillText(s, a.right - 15, a.top + 77 + i * 28.6));
    ctx.restore();
  }
};

function place(cv, L, padL, padT, padR, padB) {
  cv.width = L.w + padL + padR; cv.height = L.h + padT + padB;
  cv.style.left = (L.x - padL) + 'px'; cv.style.top = (L.y - padT) + 'px';
}
const slot = (jit, i) => i < jit.length ? jit[i] : jitterSlots[(i - jit.length) % jitterSlots.length];

function boxChart(id, L, gene, groups, yTicks, showYTitle) {
  const cv = document.getElementById(id);
  place(cv, L, L.padL, L.padT, L.padR, L.padB);
  const ds = [];
  const line = (pts, w, dash, order, extra) => Object.assign({type:'line', data: pts.map(([x, y]) => ({x, y})), borderColor:'#000', borderWidth:w, borderDash:dash || [], pointRadius:0, fill:false, tension:0, order}, extra || {});
  groups.forEach(g => {
    const p = g.pos; const [wl, q1, md, q3, wh] = g.stats;
    ds.push({type:'scatter', data: g.values.map((v, i) => ({x: p + slot(g.jitter, i) * JIT_HALF, y: v})), pointRadius:3.4, pointBackgroundColor:'#000', backgroundColor:'#000', pointBorderWidth:0, borderWidth:0, order:1});
    ds.push(line([[p - BOX_HALF, md], [p + BOX_HALF, md]], 7, null, 2, {borderCapStyle:'butt'}));
    ds.push(line([[p - BOX_HALF, q1], [p + BOX_HALF, q1], [p + BOX_HALF, q3], [p - BOX_HALF, q3], [p - BOX_HALF, q1]], 2.5, null, 3));
    ds.push(line([[p, q3], [p, wh]], 2, [10, 7], 4));
    ds.push(line([[p, q1], [p, wl]], 2, [10, 7], 4));
    ds.push(line([[p - CAP_HALF, wh], [p + CAP_HALF, wh]], 2, null, 4));
    ds.push(line([[p - CAP_HALF, wl], [p + CAP_HALF, wl]], 2, null, 4));
    ds.push(line([[p - BOX_HALF, q3], [p + BOX_HALF, q3]], 1, null, 6, {borderColor:'rgba(0,0,0,0)', fill:'+1', backgroundColor:g.color}));
    ds.push(line([[p - BOX_HALF, q1], [p + BOX_HALF, q1]], 1, null, 6, {borderColor:'rgba(0,0,0,0)'}));
  });
  const grid = {display:true, drawOnChartArea:false, drawTicks:true, tickLength:L.tickLen, tickWidth:2.5, tickColor:'#000'};
  new Chart(cv, {
    type: 'scatter',
    data: {datasets: ds},
    plugins: [framePlugin, titlesPlugin],
    options: {
      responsive:false, animation:false, devicePixelRatio:1, events:[],
      layout: {padding: {left:0, top:L.padT, right:L.padR, bottom:0}},
      plugins: {
        legend:{display:false}, tooltip:{enabled:false}, title:{display:false},
        frame:{color:'#000', width:2.5},
        panelTitles:{items: L.titles.map(t => Object.assign({text: gene}, t))}
      },
      scales: {
        x: {type:'linear', min:L.xMin, max:L.xMax,
            afterBuildTicks: s => { s.ticks = [{value:1.5}]; },
            afterFit: s => { s.height = L.padB; },
            grid, border:{display:false},
            ticks:{color:'#000', font:{size:44, lineHeight:1.26, family:FONT}, padding:27, maxRotation:0, autoSkip:false, callback: () => boxTickLabel}},
        y: {type:'linear', min:L.yMin, max:L.yMax,
            afterBuildTicks: s => { s.ticks = yTicks.map(v => ({value:v})); },
            afterFit: s => { s.width = L.padL; },
            grid, border:{display:false},
            ticks:{color:'#000', font:{size:46, family:FONT}, padding:L.tickLabelX - L.tickLen - 12.8, minRotation:90, maxRotation:90, crossAlign:'center', autoSkip:false, callback: v => String(v)},
            title:{display:showYTitle, text:boxYTitle, color:'#000', font:{size:48, lineHeight:1, family:FONT}, padding:{top:41, bottom:0}}}
      }
    }
  });
}

function survAt(curve, t) { let s = curve[0][1]; for (const [x, y] of curve) { if (x <= t) s = y; else break; } return s; }

function kmChart(id, L, gene, subtitle, c, stats) {
  const cv = document.getElementById(id);
  const padL = 140, padT = 160, padR = 20, padB = 110;
  place(cv, L, padL, padT, padR, padB);
  const xy = arr => arr.map(([x, y]) => ({x, y}));
  const step = (data, color, w, dash, order) => ({type:'line', data: xy(data), borderColor:color, borderWidth:w, borderDash:dash, stepped:'before', pointRadius:0, fill:false, tension:0, order});
  const cens = (times, curve, color) => ({type:'scatter', data: times.map(t => ({x:t, y:survAt(curve, t)})), pointStyle:'cross', pointRadius:7.5, pointBorderWidth:2, borderWidth:2, borderColor:color, pointBorderColor:color, backgroundColor:color, order:1});
  const ds = [
    step(c.lowUpper, CI_BLUE, 1.8, [2, 5], 5), step(c.lowLower, CI_BLUE, 1.8, [2, 5], 5),
    step(c.highUpper, CI_RED, 1.8, [2, 5], 5), step(c.highLower, CI_RED, 1.8, [2, 5], 5),
    step(c.low, KM_BLUE, 2.6, [], 3), step(c.high, KM_RED, 2.6, [], 2),
    cens(c.lowCensor, c.low, KM_BLUE), cens(c.highCensor, c.high, KM_RED)
  ];
  const grid = {display:true, drawOnChartArea:false, drawTicks:true, tickLength:10, tickWidth:2, tickColor:'#333'};
  const texts = [gene, subtitle];
  new Chart(cv, {
    type: 'scatter',
    data: {datasets: ds},
    plugins: [framePlugin, kmLegendPlugin, titlesPlugin],
    options: {
      responsive:false, animation:false, devicePixelRatio:1, events:[],
      layout: {padding: {left:0, top:padT, right:padR, bottom:0}},
      plugins: {
        legend:{display:false}, tooltip:{enabled:false}, title:{display:false},
        frame:{color:'#444', width:2},
        panelTitles:{items: L.titles.map((t, i) => Object.assign({text: texts[i]}, t))},
        kmLegend:{items:[{text:'Low ' + gene + ' TPM', color:KM_BLUE}, {text:'High ' + gene + ' TPM', color:KM_RED}], stats}
      },
      scales: {
        x: {type:'linear', min:0, max:L.xMax,
            afterBuildTicks: s => { s.ticks = kmMonthTicks.map(v => ({value:v})); },
            afterFit: s => { s.height = padB; },
            grid, border:{display:false},
            ticks:{color:'#111', font:{size:22, family:FONT}, padding:20, maxRotation:0, autoSkip:false},
            title:{display:true, text:'Months', color:'#111', font:{size:31, lineHeight:1, family:FONT}, padding:{top:0, bottom:10.5}}},
        y: {type:'linear', min:-0.04, max:1.04,
            afterBuildTicks: s => { s.ticks = kmSurvTicks.map(v => ({value:v})); },
            afterFit: s => { s.width = padL; },
            grid, border:{display:false},
            ticks:{color:'#111', font:{size:22, family:FONT}, padding:16.7, minRotation:90, maxRotation:90, crossAlign:'center', autoSkip:false, callback: v => Number(v).toFixed(1)},
            title:{display:true, text:'Percent survival', color:'#111', font:{size:31, lineHeight:1, family:FONT}, padding:{top:34.5, bottom:0}}}
      }
    }
  });
}

boxChart('boxA1', LAYOUT.boxA1, genes[0], [
  {pos:1, stats:srpk1TumorStats, values:srpk1TumorTPM, jitter:srpk1TumorJitter, color:RED_BOX},
  {pos:2, stats:srpk1NormalStats, values:srpk1NormalTPM, jitter:srpk1NormalJitter, color:GRAY_BOX}
], srpk1YTicks, true);
boxChart('boxA2', LAYOUT.boxA2, genes[1], [
  {pos:1, stats:srpk2TumorStats, values:srpk2TumorTPM, jitter:srpk2TumorJitter, color:RED_BOX},
  {pos:2, stats:srpk2NormalStats, values:srpk2NormalTPM, jitter:srpk2NormalJitter, color:GRAY_BOX}
], srpk2YTicks, false);

kmChart('kmB1', LAYOUT.kmB1, genes[0], 'Overall Survival',
  {low:os1Low, high:os1High, lowUpper:os1LowUpper, lowLower:os1LowLower, highUpper:os1HighUpper, highLower:os1HighLower, lowCensor:os1LowCensor, highCensor:os1HighCensor}, os1Stats);
kmChart('kmB2', LAYOUT.kmB2, genes[1], 'Overall Survival',
  {low:os2Low, high:os2High, lowUpper:os2LowUpper, lowLower:os2LowLower, highUpper:os2HighUpper, highLower:os2HighLower, lowCensor:os2LowCensor, highCensor:os2HighCensor}, os2Stats);
kmChart('kmC1', LAYOUT.kmC1, genes[0], 'Disease Free Survival',
  {low:dfs1Low, high:dfs1High, lowUpper:dfs1LowUpper, lowLower:dfs1LowLower, highUpper:dfs1HighUpper, highLower:dfs1HighLower, lowCensor:dfs1LowCensor, highCensor:dfs1HighCensor}, dfs1Stats);
kmChart('kmC2', LAYOUT.kmC2, genes[1], 'Disease Free Survival',
  {low:dfs2Low, high:dfs2High, lowUpper:dfs2LowUpper, lowLower:dfs2LowLower, highUpper:dfs2HighUpper, highLower:dfs2HighLower, lowCensor:dfs2LowCensor, highCensor:dfs2HighCensor}, dfs2Stats);
</script>
</body></html>
